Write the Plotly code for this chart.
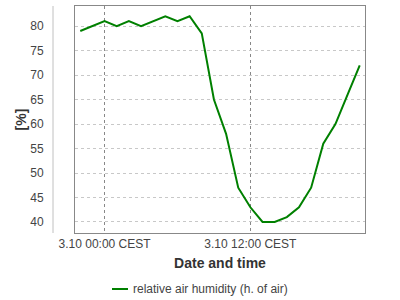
import plotly.graph_objects as go

times = [
    "2023-10-02 22:00", "2023-10-03 00:00", "2023-10-03 01:00", "2023-10-03 02:00",
    "2023-10-03 03:00", "2023-10-03 04:00", "2023-10-03 05:00", "2023-10-03 06:00",
    "2023-10-03 07:00", "2023-10-03 08:00", "2023-10-03 09:00", "2023-10-03 10:00",
    "2023-10-03 11:00", "2023-10-03 12:00", "2023-10-03 13:00", "2023-10-03 14:00",
    "2023-10-03 15:00", "2023-10-03 16:00", "2023-10-03 17:00", "2023-10-03 18:00",
    "2023-10-03 19:00", "2023-10-03 20:00", "2023-10-03 21:00",
]
humidity = [79, 81, 80, 81, 80, 81, 82, 81, 82, 78.5, 65, 58, 47, 43, 40, 40,
            41, 43, 47, 56, 60, 66, 72]

tick_vals = ["2023-10-03 00:00", "2023-10-03 12:00"]
tick_text = ["3.10 00:00 CEST", "3.10 12:00 CEST"]
series_name = "relative air humidity (h. of air)"
x_title = "Date and time"
y_title = "[%]"

FONT = "Liberation Sans, Arial, sans-serif"
GREEN = "#008000"

fig = go.Figure()
fig.add_trace(go.Scatter(x=times, y=humidity, mode="lines", name=series_name,
                         line=dict(color=GREEN, width=2), showlegend=False))

fig.update_layout(
    width=400, height=300,
    margin=dict(l=75, r=35, t=6, b=67),
    paper_bgcolor="white", plot_bgcolor="white",
    font=dict(family=FONT, size=12, color="#444"),
    xaxis=dict(
        type="date",
        range=["2023-10-02 21:34", "2023-10-03 21:26"],
        tickvals=tick_vals, ticktext=tick_text,
        showgrid=True, gridcolor="#888", griddash="dot", gridwidth=1,
        showline=True, linecolor="#888", linewidth=1, mirror=True,
        ticks="", zeroline=False,
        tickfont=dict(size=12, color="#444"),
        title=dict(text="<b>" + x_title + "</b>", font=dict(size=14, color="#333"), standoff=7),
    ),
    yaxis=dict(
        range=[37.75, 84.1],
        tickvals=[40, 45, 50, 55, 60, 65, 70, 75, 80],
        showgrid=True, gridcolor="#c8c8c8", griddash="3px,3px", gridwidth=1,
        showline=True, linecolor="#888", linewidth=1, mirror=True,
        ticks="", zeroline=False,
        ticklabelstandoff=28,
        tickfont=dict(size=12, color="#444"),
        title=dict(text="<b>" + y_title + "</b>", font=dict(size=14, color="#333"), standoff=0),
    ),
)

# outer y-axis line
fig.add_shape(type="line", xref="paper", yref="paper", x0=-22/290, x1=-22/290, y0=0, y1=1,
              line=dict(color="#c0c0c0", width=1))

# manual legend
fig.add_shape(type="line", xref="paper", yref="paper",
              x0=(112-75)/290, x1=(128-75)/290, y0=-(289-233)/227, y1=-(289-233)/227,
              line=dict(color=GREEN, width=2))
fig.add_annotation(xref="paper", yref="paper", x=(131-75)/290, y=-(289-233)/227,
                   text=series_name, showarrow=False, xanchor="left", yanchor="middle",
                   font=dict(size=12, color="#444", family=FONT))

fig.write_html("out.html")
